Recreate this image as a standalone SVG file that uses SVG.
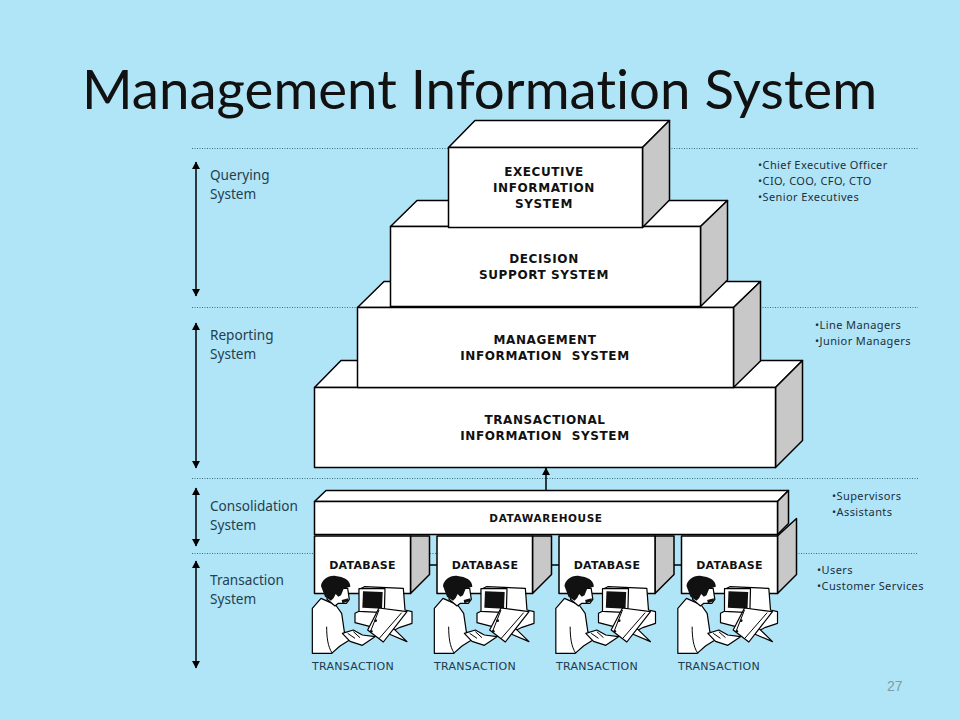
<svg xmlns="http://www.w3.org/2000/svg" xmlns:xlink="http://www.w3.org/1999/xlink" width="960" height="720" viewBox="0 0 960 720">
<style>
text{font-family:"Noto Sans","Open Sans",sans-serif;fill:#1f3a4d;white-space:pre}
.t{font-family:"Lato","Noto Sans",sans-serif;font-size:54.600px;fill:#111;font-variant-ligatures:none}
.s{font-size:13.6px;fill:#24404f}
.b{font-size:11px;fill:#1d2f3a;letter-spacing:.4px}
.l{font-family:"DejaVu Sans",sans-serif;font-size:12px;font-weight:700;fill:#111;text-anchor:middle;letter-spacing:.6px}
.n{font-family:"DejaVu Sans",sans-serif;font-size:11px;font-weight:700;fill:#111;text-anchor:middle;letter-spacing:.3px}
.x{font-family:"DejaVu Sans",sans-serif;font-size:11px;fill:#1d3a4c;letter-spacing:.3px}
.f{fill:#fff;stroke:#000;stroke-width:1.5;stroke-linejoin:round}
.g{fill:#c8c8c8;stroke:#000;stroke-width:1.5;stroke-linejoin:round}
.d{stroke:#3f6f7c;stroke-width:1;stroke-dasharray:1 1.5;fill:none}
.c{stroke:#000;stroke-width:1.5;fill:none}
.p{fill:#fff;stroke:#000;stroke-width:3.6;stroke-linejoin:round}
.q{fill:none;stroke:#000;stroke-width:3}
.k{fill:#111}
</style>
<defs>
<marker id="ah" markerWidth="8" markerHeight="8" refX="7" refY="4" orient="auto-start-reverse" markerUnits="userSpaceOnUse" viewBox="0 0 8 8"><path d="M0 0L7.500 4L0 8Z" fill="#000"/></marker>
<g id="person" transform="translate(-7 17) scale(.33333)">
<path class="p" d="M150 130L165 122L163 58L178 50L295 55L300 120L321 125L321 160L285 172L250 190L205 172L150 158Z"/>
<path class="p" d="M162 56L240 56L238 128L162 124Z"/>
<path class="k" d="M174 64L233 66L231 116L172 113Z"/>
<path class="p" d="M265 175L306 215L252 192Z"/>
<path class="p" d="M188 180L222 114L306 125L235 216Z"/>
<path class="q" d="M222 120L196 186M290 128L222 206M215 150L210 155"/>
<circle cx="199" cy="184" r="4" class="k"/><circle cx="212" cy="152" r="4" class="k"/>
<path class="p" d="M48 85L22 115L22 250L80 250L105 228L130 212L140 205L118 185L110 130L92 105L70 95Z"/>
<path class="q" d="M65 170C65 200 68 230 82 250"/>
<path class="p" d="M112 190L145 180L172 195L210 200L172 226L135 214Z"/>
<path class="q" d="M128 190L150 205M145 185L165 203"/>
<path class="p" d="M70 55L128 55L133 88L124 100L100 100L90 108L66 88Z"/>
<path class="k" d="M48 48C50 30 70 15 92 18C115 20 136 30 136 50L116 56L108 76L100 80L92 72L86 84L78 92L60 80Z"/>
<path class="k" d="M110 90L130 85L130 94L112 100Z"/>
</g>
</defs>
<rect width="960" height="720" fill="#b0e5f7"/>
<text class="t" x="82" y="109">Management Information System</text>
<g id="guides">
<path class="d" d="M192 148.500H448M669 148.500H918M192 307.500H358M760 307.500H918M192 478.500H918M192 553.500H315M430 553.500H437M796 553.500H918"/>
</g>
<g id="connectors">
<path class="c" d="M196 162V296" marker-start="url(#ah)" marker-end="url(#ah)"/>
<path class="c" d="M196 323V468" marker-start="url(#ah)" marker-end="url(#ah)"/>
<path class="c" d="M196 488V546" marker-start="url(#ah)" marker-end="url(#ah)"/>
<path class="c" d="M196 561V668" marker-start="url(#ah)" marker-end="url(#ah)"/>
<path class="c" d="M546 501V468" stroke-width="1" marker-end="url(#ah)"/>
<path class="c" d="M410 565H437M532 565H559M655 565H681"/>
</g>
<g id="tis">
<path class="f" d="M314.500 387.500L341 360.500H802.500L775.500 387.500Z"/>
<path class="g" d="M775.500 387.500L802.500 360.500V440.500L775.500 467.500Z"/>
<rect class="f" x="314.500" y="387.500" width="461" height="80"/>
<text class="l" x="545" y="424">TRANSACTIONAL</text><text class="l" x="545" y="440">INFORMATION  SYSTEM</text>
</g>
<g id="mis">
<path class="f" d="M357.500 307.500L384 281.500H760.500L733.500 307.500Z"/>
<path class="g" d="M733.500 307.500L760.500 281.500V361L733.500 387.500Z"/>
<rect class="f" x="357.500" y="307.500" width="376" height="80"/>
<text class="l" x="545" y="344">MANAGEMENT</text><text class="l" x="545" y="360">INFORMATION  SYSTEM</text>
</g>
<g id="dss">
<path class="f" d="M390.500 226.500L417 200.500H727.500L700.500 226.500Z"/>
<path class="g" d="M700.500 226.500L727.500 200.500V280L700.500 306.500Z"/>
<rect class="f" x="390.500" y="226.500" width="310" height="80"/>
<text class="l" x="544" y="263">DECISION</text><text class="l" x="544" y="279">SUPPORT SYSTEM</text>
</g>
<g id="eis">
<path class="f" d="M448.500 147.500L475 120.500H669.500L642.500 147.500Z"/>
<path class="g" d="M642.500 147.500L669.500 120.500V200L642.500 227.500Z"/>
<rect class="f" x="448.500" y="147.500" width="194" height="80"/>
<text class="l" x="544" y="176">EXECUTIVE</text><text class="l" x="544" y="192">INFORMATION</text><text class="l" x="544" y="208">SYSTEM</text>
</g>
<g id="db1">
<path class="g" d="M410.500 536L429.500 536V574.500L410.500 593.500Z"/>
<rect class="f" x="314.500" y="536" width="96" height="57.500"/>
<text class="n" x="362.500" y="569">DATABASE</text>
</g>
<g id="db2">
<path class="g" d="M532.500 536L551.500 536V574.500L532.500 593.500Z"/>
<rect class="f" x="437" y="536" width="95.500" height="57.500"/>
<text class="n" x="485" y="569">DATABASE</text>
</g>
<g id="db3">
<path class="g" d="M655 536L674 536V574.500L655 593.500Z"/>
<rect class="f" x="559" y="536" width="96" height="57.500"/>
<text class="n" x="607" y="569">DATABASE</text>
</g>
<g id="db4">
<path class="g" d="M777.500 536L796.500 518.500V574.500L777.500 593.500Z"/>
<rect class="f" x="681.500" y="536" width="96" height="57.500"/>
<text class="n" x="729.500" y="569">DATABASE</text>
</g>
<g id="datawarehouse">
<path class="f" d="M314.500 501.500L326 490.500H788.500L777.500 501.500Z"/>
<path class="g" d="M777.500 501.500L788.500 490.500V523.500L777.500 534.500Z"/>
<rect class="f" x="314.500" y="501.500" width="463" height="33"/>
<text class="n" x="546" y="522" style="font-size:10.500px;letter-spacing:.6px">DATAWAREHOUSE</text>
</g>
<g id="t1"><use xlink:href="#person" href="#person" x="312" y="553"/><text class="x" x="312" y="670">TRANSACTION</text></g>
<g id="t2"><use xlink:href="#person" href="#person" x="434" y="553"/><text class="x" x="434" y="670">TRANSACTION</text></g>
<g id="t3"><use xlink:href="#person" href="#person" x="555.500" y="553"/><text class="x" x="556" y="670">TRANSACTION</text></g>
<g id="t4"><use xlink:href="#person" href="#person" x="677.500" y="553"/><text class="x" x="678" y="670">TRANSACTION</text></g>
<g id="system-labels">
<text class="s" x="210" y="180">Querying</text><text class="s" x="210" y="199">System</text>
<text class="s" x="210" y="340">Reporting</text><text class="s" x="210" y="359">System</text>
<text class="s" x="210" y="511">Consolidation</text><text class="s" x="210" y="530">System</text>
<text class="s" x="210" y="585">Transaction</text><text class="s" x="210" y="604">System</text>
</g>
<g id="roles">
<text class="b" x="758" y="169">•Chief Executive Officer</text>
<text class="b" x="758" y="185">•CIO, COO, CFO, CTO</text>
<text class="b" x="758" y="201">•Senior Executives</text>
<text class="b" x="815" y="329">•Line Managers</text>
<text class="b" x="815" y="345">•Junior Managers</text>
<text class="b" x="832" y="500">•Supervisors</text>
<text class="b" x="832" y="516">•Assistants</text>
<text class="b" x="817" y="574">•Users</text>
<text class="b" x="817" y="590">•Customer Services</text>
</g>
<text x="887" y="691" style="font-family:'Liberation Sans',sans-serif;font-size:14px;fill:#7f9aa5">27</text>
</svg>
